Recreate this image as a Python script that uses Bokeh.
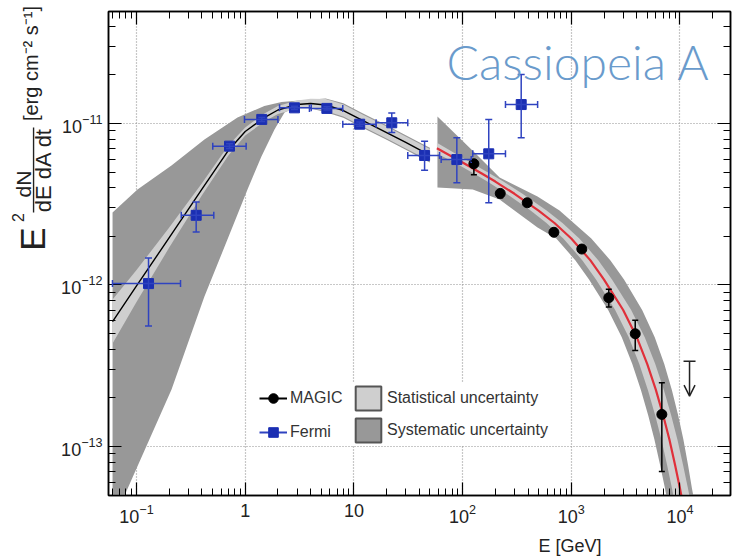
import math
from bokeh.plotting import figure
from bokeh.layouts import row, column
from bokeh.models import (Range1d, LogAxis, LogTicker, Whisker, TeeHead, Arrow, OpenHead,
                          Label, Legend, LegendItem, ColumnDataSource, CustomJSTickFormatter)
from bokeh.embed import file_html
from bokeh.resources import INLINE

# ---------------- data ----------------
# Fermi-LAT points
fermi_E = [0.129, 0.354, 0.717, 1.42, 2.84, 5.64, 11.3, 22.3, 44.7, 88.5, 174, 346]
fermi_F = [1.02e-12, 2.70e-12, 7.24e-12, 1.06e-11, 1.25e-11, 1.24e-11, 9.9e-12, 1.01e-11,
           6.34e-12, 5.98e-12, 6.49e-12, 1.31e-11]
fermi_E_lo = [0.0601, 0.258, 0.503, 0.985, 2.07, 3.9, 7.9, 16.0, 31.3, 63.5, 124, 248]
fermi_E_hi = [0.254, 0.514, 1.02, 2.0, 4.05, 7.9, 16.0, 31.3, 61.4, 120, 248, 490]
fermi_F_lo = [5.57e-13, 2.13e-12, 7.0e-12, 1.03e-11, 1.22e-11, 1.21e-11, 9.6e-12, 8.8e-12,
              5.14e-12, 4.3e-12, 3.23e-12, 8.15e-12]
fermi_F_hi = [1.47e-12, 3.27e-12, 7.5e-12, 1.09e-11, 1.28e-11, 1.27e-11, 1.02e-11, 1.16e-11,
              7.77e-12, 8.15e-12, 1.06e-11, 2.01e-11]

# MAGIC points
magic_E = [127, 222, 393, 692, 1250, 2213, 3874, 6807]
magic_F = [5.63e-12, 3.69e-12, 3.23e-12, 2.12e-12, 1.67e-12, 8.34e-13, 4.99e-13, 1.58e-13]
magic_F_lo = [4.82e-12, 3.47e-12, 3.10e-12, 2.02e-12, 1.60e-12, 7.3e-13, 3.93e-13, 7.0e-14]
magic_F_hi = [5.86e-12, 3.84e-12, 3.35e-12, 2.22e-12, 1.73e-12, 9.4e-13, 6.05e-13, 2.48e-13]

# MAGIC upper limit
ul_E = [12240]
ul_F_top = [3.37e-13]
ul_F_tip = [2.05e-13]

# Fermi fit curve (black) and its bands
fit_f_E = [0.0602, 0.1, 0.2, 0.4, 0.7, 1.0, 1.5, 2.0, 3.0, 4.0, 5.5, 8, 12, 20, 30, 45, 50]
fit_f_F = [5.94e-13, 9.86e-13, 1.965e-12, 3.92e-12, 6.81e-12, 8.92e-12, 1.089e-11, 1.212e-11,
           1.311e-11, 1.33e-11, 1.302e-11, 1.203e-11, 1.044e-11, 8.79e-12, 7.63e-12, 6.61e-12, 6.37e-12]
stat_f_hi = [8.13e-13, 1.238e-12, 2.266e-12, 4.27e-12, 7.31e-12, 9.45e-12, 1.153e-11, 1.284e-11,
             1.388e-11, 1.423e-11, 1.418e-11, 1.310e-11, 1.137e-11, 9.57e-12, 8.31e-12, 7.20e-12, 6.94e-12]
stat_f_lo = [4.34e-13, 7.85e-13, 1.704e-12, 3.60e-12, 6.34e-12, 8.42e-12, 1.028e-11, 1.145e-11,
             1.238e-11, 1.243e-11, 1.196e-11, 1.105e-11, 9.59e-12, 8.07e-12, 7.01e-12, 6.07e-12, 5.85e-12]
sys_f_up_E = [0.0602, 0.1021, 0.2098, 0.4216, 0.8494, 1.5, 2.16, 3.16, 5.5, 8, 12, 20, 30, 45, 50]
sys_f_up_F = [2.81e-12, 3.90e-12, 5.50e-12, 7.96e-12, 1.089e-11, 1.284e-11, 1.36e-11, 1.387e-11,
              1.43e-11, 1.335e-11, 1.159e-11, 9.76e-12, 8.47e-12, 7.34e-12, 7.07e-12]
sys_f_lo_E = [0.0602, 0.0776, 0.21, 0.4216, 0.749, 1.05, 1.41, 1.86, 2.30, 3.16, 5.5, 8, 12, 20, 30, 45, 50]
sys_f_lo_F = [3.38e-14, 4.97e-14, 2.25e-13, 8.49e-13, 2.21e-12, 3.90e-12, 6.25e-12, 9.18e-12, 1.17e-11,
              1.293e-11, 1.173e-11, 1.084e-11, 9.41e-12, 7.92e-12, 6.87e-12, 5.95e-12, 5.74e-12]

# MAGIC fit curve (red) and its bands
fit_m_E = [58, 100, 150, 200, 300, 500, 700, 1000, 1500, 2000, 3000, 4000, 5000, 6000, 7000,
           8000, 9000, 10000, 11000]
fit_m_F = [7.03e-12, 5.74e-12, 4.90e-12, 4.37e-12, 3.67e-12, 2.89e-12, 2.42e-12, 1.94e-12, 1.42e-12,
           1.08e-12, 7.0e-13, 4.75e-13, 3.24e-13, 2.24e-13, 1.56e-13, 1.10e-13, 7.7e-14, 5.5e-14, 3.9e-14]
stat_m_up_E = [58, 118.5, 177.7, 236.9, 355.4, 592.3, 829.2, 1185, 1777, 2369, 3554, 4738, 5923,
               7108, 8292, 9477, 10661, 11846, 13031]
stat_m_up_F = [7.59e-12, 5.74e-12, 4.90e-12, 4.37e-12, 3.67e-12, 2.89e-12, 2.42e-12, 1.94e-12, 1.42e-12,
               1.08e-12, 7.0e-13, 4.75e-13, 3.24e-13, 2.24e-13, 1.56e-13, 1.10e-13, 7.7e-14, 5.5e-14, 3.9e-14]
stat_m_lo_E = [58, 84.4, 126.6, 168.8, 253.3, 422.1, 590.9, 844.2, 1266, 1688, 2533, 3377, 4221,
               5065, 5909, 6754, 7598, 8442, 9286]
stat_m_lo_F = [6.51e-12, 5.74e-12, 4.90e-12, 4.37e-12, 3.67e-12, 2.89e-12, 2.42e-12, 1.94e-12, 1.42e-12,
               1.08e-12, 7.0e-13, 4.75e-13, 3.24e-13, 2.24e-13, 1.56e-13, 1.10e-13, 7.7e-14, 5.5e-14, 3.9e-14]
sys_m_up_E = [58.7, 128.7, 219, 489, 779, 1528, 2292, 3055, 4487, 5856, 7167, 8419, 9615, 10758,
              11848, 12887, 14176]
sys_m_up_F = [1.105e-11, 6.61e-12, 4.63e-12, 3.53e-12, 2.89e-12, 1.94e-12, 1.42e-12, 1.08e-12, 7.0e-13,
              4.75e-13, 3.24e-13, 2.24e-13, 1.56e-13, 1.10e-13, 7.7e-14, 5.5e-14, 3.9e-14]
sys_m_lo_E = [58.7, 124, 219, 489, 728, 1092, 1456, 2184, 2912, 3640, 4368, 5096, 5824, 6552, 7280, 8008]
sys_m_lo_F = [4.02e-12, 3.90e-12, 3.38e-12, 2.27e-12, 1.94e-12, 1.42e-12, 1.08e-12, 7.0e-13, 4.75e-13,
              3.24e-13, 2.24e-13, 1.56e-13, 1.10e-13, 7.7e-14, 5.5e-14, 3.9e-14]

x_tick_overrides = {1: "1", 10: "10"}

# ---------------- styles ----------------
BLUE = "#1b2fb3"
BLUE_ERR = "#2f43c0"
DARK = "#989898"
LIGHT = "#cfcfcf"
RED = "#e0303a"
FONT = "Liberation Sans"
TXT = "#222222"
LW = 52          # strip holding the y-axis title
MAIN_H = 531     # height of the main plot canvas
BOT_H = 25       # strip holding the x-axis title

p = figure(x_axis_type="log", y_axis_type="log",
           x_range=Range1d(0.05525, 29150), y_range=Range1d(4.972e-14, 4.937e-11),
           frame_width=622, frame_height=484,
           min_border_left=108 - LW, min_border_right=2, min_border_top=11,
           min_border_bottom=MAIN_H - 11 - 484,
           output_backend="svg", toolbar_location=None)
p.background_fill_color = "white"
p.border_fill_color = "white"
p.outline_line_color = "black"
p.outline_line_width = 1.5

p.grid.grid_line_color = "#909090"
p.grid.grid_line_dash = "1 2"
p.grid.grid_line_width = 1.2

def style_axis(ax):
    ax.ticker.num_minor_ticks = 10
    ax.major_tick_in = 13
    ax.major_tick_out = 0
    ax.minor_tick_in = 7
    ax.minor_tick_out = 0
    ax.axis_line_width = 1.5
    ax.major_tick_line_width = 1.2
    ax.minor_tick_line_width = 1
    ax.major_label_text_font = FONT
    ax.major_label_text_color = TXT
    ax.major_label_text_font_size = "18px"

style_axis(p.xaxis[0])
style_axis(p.yaxis[0])
p.xaxis[0].major_label_standoff = 8
p.yaxis[0].major_label_standoff = 6
p.xaxis[0].major_label_overrides = x_tick_overrides

# tick marks on the top and right edges of the frame, without labels
blank = CustomJSTickFormatter(code="return ''")
for side in ("above", "right"):
    ax = LogAxis(ticker=LogTicker(), formatter=blank)
    style_axis(ax)
    ax.major_label_text_font_size = "2px"
    ax.major_label_standoff = 0
    p.add_layout(ax, side)

# ---------------- bands ----------------
p.patch(sys_f_up_E + sys_f_lo_E[::-1], sys_f_up_F + sys_f_lo_F[::-1],
        fill_color=DARK, line_color=None)
p.patch(sys_m_up_E + sys_m_lo_E[::-1], sys_m_up_F + sys_m_lo_F[::-1],
        fill_color=DARK, line_color=None)
p.patch(fit_f_E + fit_f_E[::-1], stat_f_hi + stat_f_lo[::-1],
        fill_color=LIGHT, line_color=None)
p.patch(stat_m_up_E + stat_m_lo_E[::-1], stat_m_up_F + stat_m_lo_F[::-1],
        fill_color=LIGHT, line_color=None)

# ---------------- curves ----------------
p.line(fit_f_E, fit_f_F, line_color="black", line_width=1.4)
p.line(fit_m_E, fit_m_F, line_color=RED, line_width=2.2)

# ---------------- error bars ----------------
fsrc = ColumnDataSource(dict(E=fermi_E, F=fermi_F, Elo=fermi_E_lo, Ehi=fermi_E_hi,
                             Flo=fermi_F_lo, Fhi=fermi_F_hi))
msrc = ColumnDataSource(dict(E=magic_E, F=magic_F, Flo=magic_F_lo, Fhi=magic_F_hi))

def tee(color, size):
    return TeeHead(size=size, line_color=color, line_width=1.5)

p.add_layout(Whisker(source=fsrc, base="F", lower="Elo", upper="Ehi", dimension="width",
                     line_color=BLUE_ERR, line_width=1.5, level="annotation",
                     upper_head=tee(BLUE_ERR, 7), lower_head=tee(BLUE_ERR, 7)))
p.add_layout(Whisker(source=fsrc, base="E", lower="Flo", upper="Fhi", dimension="height",
                     line_color=BLUE_ERR, line_width=1.5, level="annotation",
                     upper_head=tee(BLUE_ERR, 7), lower_head=tee(BLUE_ERR, 7)))
p.add_layout(Whisker(source=msrc, base="E", lower="Flo", upper="Fhi", dimension="height",
                     line_color="black", line_width=1.5, level="annotation",
                     upper_head=tee("black", 6), lower_head=tee("black", 6)))

# ---------------- markers ----------------
p.scatter("E", "F", source=fsrc, marker="square", size=10, fill_color=BLUE, line_color=BLUE)
p.scatter("E", "F", source=msrc, marker="circle", size=10, fill_color="black", line_color="black")

# upper limit arrow
usrc = ColumnDataSource(dict(E=ul_E, top=ul_F_top, tip=ul_F_tip))
p.add_layout(Arrow(source=usrc, x_start="E", y_start="top", x_end="E", y_end="tip",
                   line_color=TXT, line_width=1.5,
                   start=TeeHead(size=12, line_color=TXT, line_width=1.5),
                   end=OpenHead(size=11, line_color=TXT, line_width=1.5)))

# ---------------- legends ----------------
l_magic_line = p.line(x=[1], y=[1], line_color="black", line_width=2, visible=False)
l_magic_mark = p.scatter(x=[1], y=[1], marker="circle", size=8, fill_color="black",
                         line_color="black", visible=False)
l_fermi_line = p.line(x=[1], y=[1], line_color=BLUE_ERR, line_width=2, visible=False)
l_fermi_mark = p.scatter(x=[1], y=[1], marker="square", size=8, fill_color=BLUE,
                         line_color=BLUE, visible=False)
l_stat = p.quad(left=[1], right=[1], top=[1], bottom=[1], fill_color=LIGHT,
                line_color="#555555", line_width=2, visible=False)
l_sys = p.quad(left=[1], right=[1], top=[1], bottom=[1], fill_color=DARK,
               line_color="#555555", line_width=2, visible=False)

common = dict(margin=0, padding=4, label_height=20, label_text_font=FONT,
              label_text_font_size="16px", label_text_color="#333333",
              border_line_color=None, background_fill_color="white", background_fill_alpha=1.0)
leg1 = Legend(items=[LegendItem(label="MAGIC", renderers=[l_magic_line, l_magic_mark]),
                     LegendItem(label="Fermi", renderers=[l_fermi_line, l_fermi_mark])],
              location=(151, 51), glyph_width=28, glyph_height=24, spacing=10,
              label_standoff=3, **common)
leg2 = Legend(items=[LegendItem(label="Statistical uncertainty", renderers=[l_stat]),
                     LegendItem(label="Systematic uncertainty", renderers=[l_sys])],
              location=(244, 50), glyph_width=32, glyph_height=30, spacing=2,
              label_standoff=3, **common)
p.add_layout(leg1)
p.add_layout(leg2)

# chart title inside the frame
p.add_layout(Label(x=338, y=434, x_units="screen", y_units="screen", text="Cassiopeia A",
                   text_align="left", text_baseline="alphabetic", text_font="Lato Light, Lato",
                   text_font_size="48px", text_color="#6a9bcc"))

# ---------------- y-axis title: strips, one rotated text in each ----------------
def strip(w, h):
    f = figure(width=w, height=h, x_range=Range1d(0, w), y_range=Range1d(0, h),
               x_axis_location=None, y_axis_location=None, min_border=0,
               outline_line_color=None, output_backend="svg", toolbar_location=None)
    f.grid.visible = False
    f.background_fill_color = "white"
    f.border_fill_color = "white"
    return f

R = math.pi / 2
def vtext(f, t, x, y, size):
    f.add_layout(Label(x=x, y=y, text=t, angle=R, text_align="center", text_baseline="middle",
                       text_font=FONT, text_font_size=size, text_color=TXT))

SPLIT = 32
# canvas rows: 0-124 units, 124-226 fraction (+ superscript), 226-531 "E"
s_unit = strip(LW, 124)
vtext(s_unit, "[erg cm\u207b\u00b2 s\u207b\u00b9]", 30, 61, "20px")

s_num = strip(SPLIT, 86)          # rows 124-210
vtext(s_num, "dN", 23, 26.5, "21px")

s_sup = strip(SPLIT, 16)          # rows 210-226
vtext(s_sup, "2", 17, 9, "16px")

s_den = strip(LW - SPLIT, 102)    # rows 124-226, holds the fraction bar too
vtext(s_den, "dE dA dt", 10.5, 56.5, "22px")
s_den.segment(x0=[1], y0=[99], x1=[1], y1=[14], line_color=TXT, line_width=1.5)

s_E = strip(LW, MAIN_H - 226)     # rows 226-531
vtext(s_E, "E", 32, (MAIN_H - 226) - 12.5, "35px")

lf = column(s_unit,
            row(column(s_num, s_sup, spacing=0), s_den, spacing=0),
            s_E, spacing=0)

# ---------------- x-axis title strip ----------------
bf = strip(LW + (108 - LW) + 622 + 2, BOT_H)
bf.add_layout(Label(x=601, y=10.5, text="E [GeV]", text_align="right", text_baseline="middle",
                    text_font=FONT, text_font_size="18px", text_color=TXT))

layout = column(row(lf, p, spacing=0), bf, spacing=0)
open("out.html", "w").write(file_html(layout, INLINE))
